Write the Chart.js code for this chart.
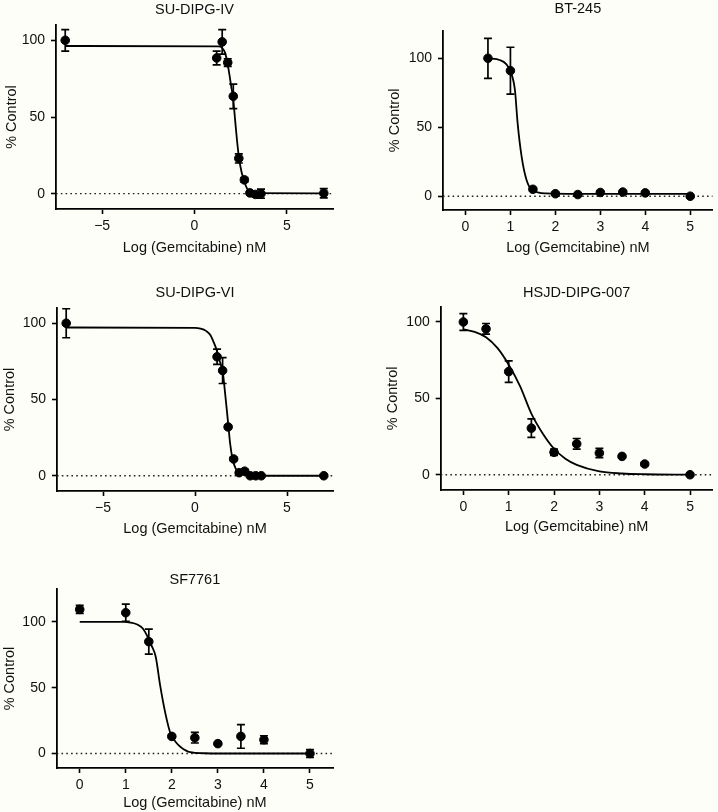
<!DOCTYPE html>
<html>
<head>
<meta charset="utf-8">
<script src="https://cdn.jsdelivr.net/npm/chart.js@4.4.0/dist/chart.umd.min.js"></script>
<style>
html, body { margin: 0; padding: 0; background: #fdfef8; }
body { width: 718px; height: 812px; position: relative; overflow: hidden; }
canvas { position: absolute; }
</style>
</head>
<body>
<canvas id="c1" width="345" height="262" style="left:0px;top:0px"></canvas>
<canvas id="c2" width="348" height="262" style="left:370px;top:0px"></canvas>
<canvas id="c3" width="345" height="265" style="left:0px;top:280px"></canvas>
<canvas id="c4" width="348" height="265" style="left:370px;top:280px"></canvas>
<canvas id="c5" width="345" height="252" style="left:0px;top:560px"></canvas>
<script>
// Datos
const wideXTicks = [-5, 0, 5];
const shortXTicks = [0, 1, 2, 3, 4, 5];
const yTicks = [0, 50, 100];

// SU-DIPG-IV
const ivDose = [-7, 1.2, 1.5, 1.8, 2.1, 2.4, 2.7, 3.0, 3.3, 3.6, 7];
const ivMean = [100, 88.5, 99, 85.5, 63.5, 23, 9, 0.5, -0.5, 0, 0.3];
const ivSem = [7, 4.5, 8, 2.5, 8, 3, 1.5, 1, 1.5, 3, 3];
const ivCurveX = [-7, 1.3, 1.5, 1.65, 1.78, 1.9, 2.0, 2.08, 2.2, 2.3, 2.41, 2.55, 2.68, 2.8, 2.95, 3.2, 7];
const ivCurveY = [96.3, 96, 95, 92, 85.5, 77, 69, 63.5, 48, 35, 23.3, 14, 9, 4.5, 1.5, 0.4, 0.2];

// BT-245
const btDose = [0.5, 1, 1.5, 2, 2.5, 3, 3.5, 4, 5];
const btMean = [100, 91, 5, 1.8, 1.2, 2.7, 3, 2.4, 0];
const btSem = [14.5, 17, 1, 1, 1, 1, 1, 1, 1];
const btCurveX = [0.5, 0.77, 0.9, 1.0, 1.1, 1.16, 1.25, 1.36, 1.49, 1.8, 2.5, 5];
const btCurveY = [100, 98.6, 96, 90.5, 77, 53, 28.5, 11.6, 4.3, 2, 1.7, 1.7];

// SU-DIPG-VI
const viDose = [-7, 1.2, 1.5, 1.8, 2.1, 2.4, 2.7, 3.0, 3.3, 3.6, 7];
const viMean = [100, 78, 69, 32, 11, 2, 3, 0, 0, 0, 0];
const viSem = [9.5, 5, 8.5, 1, 1, 1, 1, 0.5, 0.5, 0.5, 0.5];
const viCurveX = [-7, 0, 0.3, 0.6, 0.85, 1.0, 1.19, 1.35, 1.51, 1.62, 1.73, 1.82, 1.91, 2.04, 2.2, 2.37, 2.6, 2.83, 3.2, 7];
const viCurveY = [97.2, 97, 96.5, 95, 92, 88, 82, 75, 68, 56, 43, 32, 21, 11, 5, 2.5, 1, 0.4, 0, 0];

// HSJD-DIPG-007
const hsDose = [0, 0.5, 1, 1.5, 2, 2.5, 3, 3.5, 4, 5];
const hsMean = [100, 95.5, 67.5, 30.5, 14.7, 20.2, 14.2, 12, 7, 0];
const hsSem = [5.5, 3.5, 7, 6, 2, 3.5, 3, 1, 1, 0.5];
const hsCurveX = [0, 0.25, 0.5, 0.75, 1, 1.25, 1.5, 1.75, 2, 2.25, 2.5, 3, 3.5, 4, 5];
const hsCurveY = [95.2, 93.5, 90, 83, 72, 58, 40, 27, 17, 10.5, 6.5, 2.2, 0.8, 0.3, 0];

// SF7761
const sfDose = [0, 1, 1.5, 2, 2.5, 3, 3.5, 4, 5];
const sfMean = [109.5, 107, 85, 13, 12, 7.5, 13, 10.5, 0];
const sfSem = [3, 6.5, 9.5, 1, 4, 0.5, 9, 3, 3];
const sfCurveX = [0, 0.96, 1.1, 1.25, 1.37, 1.47, 1.56, 1.65, 1.75, 1.86, 1.97, 2.08, 2.19, 2.4, 2.7, 3, 5];
const sfCurveY = [100, 100, 99.5, 98, 95, 89, 82, 73.5, 51, 30.5, 15.3, 9, 5, 1, 0.2, 0, 0];

const FONT = "'Liberation Sans', Arial, Helvetica, sans-serif";
Chart.defaults.font.family = FONT;
Chart.defaults.font.size = 14.5;
Chart.defaults.color = '#111';

// Barras de error (media +/- sem) dibujadas con las escalas
const errorBars = {
    id: 'errorBars',
    afterDatasetsDraw(chart) {
        const ctx = chart.ctx;
        const xs = chart.scales.x, ys = chart.scales.y;
        chart.data.datasets.forEach(ds => {
            if (!ds.errors) return;
            ctx.save();
            ctx.strokeStyle = '#000';
            ctx.lineWidth = 1.7;
            ds.data.forEach((p, i) => {
                const e = ds.errors[i];
                const x = xs.getPixelForValue(p.x);
                const y1 = ys.getPixelForValue(p.y + e);
                const y2 = ys.getPixelForValue(p.y - e);
                ctx.beginPath();
                ctx.moveTo(x, y1); ctx.lineTo(x, y2);
                ctx.moveTo(x - 4, y1); ctx.lineTo(x + 4, y1);
                ctx.moveTo(x - 4, y2); ctx.lineTo(x + 4, y2);
                ctx.stroke();
            });
            ctx.restore();
        });
    }
};

function fmt(v) {
    return v < 0 ? '\u2212' + Math.abs(v) : String(v);
}

function buildChart(id, p, box) {
    const ctx = document.getElementById(id).getContext('2d');
    return new Chart(ctx, {
        type: 'scatter',
        data: {
            datasets: [
                {
                    type: 'line',
                    data: [{ x: p.xRange[0], y: 0 }, { x: p.xRange[1], y: 0 }],
                    borderColor: '#222',
                    borderWidth: 1.4,
                    borderDash: [1.6, 3.2],
                    pointRadius: 0,
                    order: 3
                },
                {
                    type: 'line',
                    data: p.curveX.map((x, i) => ({ x: x, y: p.curveY[i] })),
                    borderColor: '#000',
                    borderWidth: 1.8,
                    pointRadius: 0,
                    cubicInterpolationMode: 'monotone',
                    order: 2
                },
                {
                    data: p.dose.map((x, i) => ({ x: x, y: p.mean[i] })),
                    errors: p.sem,
                    backgroundColor: '#000',
                    borderColor: '#000',
                    pointRadius: 4.3,
                    order: 1
                }
            ]
        },
        options: {
            responsive: false,
            animation: false,
            layout: { padding: { left: 0, top: 0, right: box.pr, bottom: 0 } },
            plugins: {
                legend: { display: false },
                tooltip: { enabled: false },
                title: {
                    display: true,
                    text: p.name,
                    fullSize: false,
                    color: '#111',
                    font: { size: 14.5, weight: 'normal' },
                    padding: { top: box.tt, bottom: box.tb }
                }
            },
            scales: {
                x: {
                    type: 'linear',
                    min: p.xRange[0],
                    max: p.xRange[1],
                    afterBuildTicks: s => { s.ticks = p.xTicks.map(v => ({ value: v })); },
                    afterFit: s => { s.height = box.xh; },
                    grid: { drawOnChartArea: false, drawTicks: true, tickLength: 5, tickWidth: 1.6, tickColor: '#000' },
                    border: { color: '#000', width: 1.8 },
                    ticks: { color: '#111', padding: 4, font: { size: 14 }, callback: v => fmt(v) },
                    title: {
                        display: true,
                        text: 'Log (Gemcitabine) nM',
                        color: '#111',
                        padding: { top: 0, bottom: box.xtp }
                    }
                },
                y: {
                    type: 'linear',
                    min: p.yRange[0],
                    max: p.yRange[1],
                    afterBuildTicks: s => { s.ticks = yTicks.map(v => ({ value: v })); },
                    afterFit: s => { s.width = box.yw; },
                    grid: { drawOnChartArea: false, drawTicks: true, tickLength: 5, tickWidth: 1.6, tickColor: '#000' },
                    border: { color: '#000', width: 1.8 },
                    ticks: { color: '#111', padding: 6, font: { size: 14 }, callback: v => fmt(v) },
                    title: {
                        display: true,
                        text: '% Control',
                        color: '#111',
                        padding: { top: box.ytp, bottom: 0 }
                    }
                }
            }
        },
        plugins: [errorBars]
    });
}

buildChart('c1', {
    name: 'SU-DIPG-IV', dose: ivDose, mean: ivMean, sem: ivSem,
    curveX: ivCurveX, curveY: ivCurveY, xRange: [-7.5, 7.5], yRange: [-10, 110], xTicks: wideXTicks
}, { yw: 56, ytp: 3.3, xh: 53, xtp: 5.3, tt: 1.3, tb: 6.3, pr: 12 });

buildChart('c2', {
    name: 'BT-245', dose: btDose, mean: btMean, sem: btSem,
    curveX: btCurveX, curveY: btCurveY, xRange: [-0.5, 5.5], yRange: [-10, 120], xTicks: shortXTicks
}, { yw: 73, ytp: 16.3, xh: 52, xtp: 5, tt: 0, tb: 13.3, pr: 5 });

buildChart('c3', {
    name: 'SU-DIPG-VI', dose: viDose, mean: viMean, sem: viSem,
    curveX: viCurveX, curveY: viCurveY, xRange: [-7.5, 7.5], yRange: [-10, 110], xTicks: wideXTicks
}, { yw: 57, ytp: 1.3, xh: 54, xtp: 7, tt: 4.3, tb: 6.3, pr: 12 });

buildChart('c4', {
    name: 'HSJD-DIPG-007', dose: hsDose, mean: hsMean, sem: hsSem,
    curveX: hsCurveX, curveY: hsCurveY, xRange: [-0.5, 5.5], yRange: [-10, 110], xTicks: shortXTicks
}, { yw: 70.7, ytp: 14.6, xh: 55, xtp: 9.6, tt: 4.3, tb: 5, pr: 3 });

buildChart('c5', {
    name: 'SF7761', dose: sfDose, mean: sfMean, sem: sfSem,
    curveX: sfCurveX, curveY: sfCurveY, xRange: [-0.5, 5.5], yRange: [-11, 125], xTicks: shortXTicks
}, { yw: 56.7, ytp: 1.3, xh: 44, xtp: 0, tt: 11.6, tb: 0, pr: 12 });
</script>
</body>
</html>
